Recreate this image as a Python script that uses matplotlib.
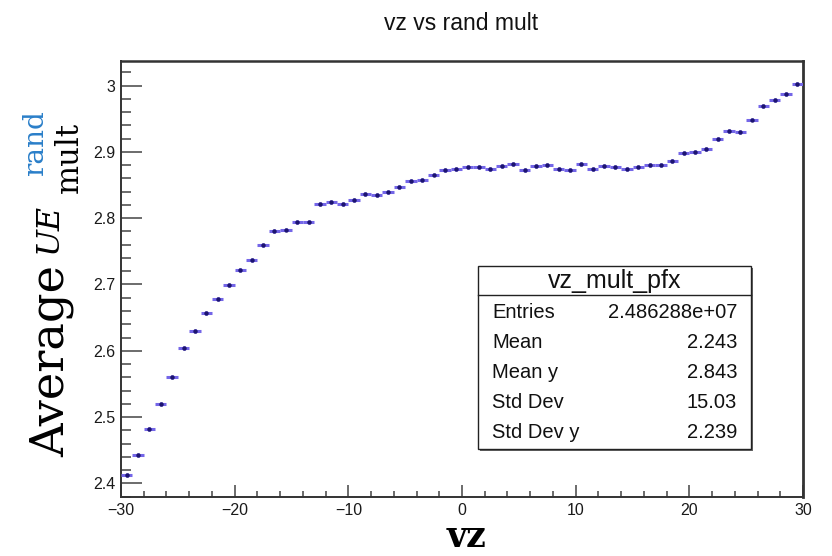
import os
import matplotlib
matplotlib.use("Agg")
import matplotlib.pyplot as plt
import numpy as np
from matplotlib.ticker import MultipleLocator, FixedLocator, FixedFormatter
from matplotlib.transforms import IdentityTransform
from matplotlib.patches import Rectangle
from matplotlib.lines import Line2D
from matplotlib.font_manager import FontProperties

# ---- data ----
bin_edges_lo = -30
bin_width = 1
avg_mult = [2.413, 2.443, 2.482, 2.519, 2.560, 2.604, 2.630, 2.657, 2.678, 2.699,
            2.722, 2.737, 2.760, 2.781, 2.783, 2.795, 2.795,
            2.821, 2.825, 2.821, 2.828, 2.837, 2.835, 2.840, 2.847, 2.856, 2.858,
            2.866, 2.873, 2.875, 2.877, 2.877, 2.875, 2.879, 2.882, 2.873, 2.879,
            2.880, 2.875,
            2.873, 2.882, 2.874, 2.879, 2.877, 2.874, 2.878, 2.881, 2.881, 2.887,
            2.899, 2.900, 2.904, 2.920, 2.932, 2.930, 2.949, 2.970, 2.979, 2.987,
            3.002]
y_err = [0.003] * len(avg_mult)
x_ticks = [-30, -20, -10, 0, 10, 20, 30]
y_ticks = [2.4, 2.5, 2.6, 2.7, 2.8, 2.9, 3.0]
y_tick_labels = ["2.4", "2.5", "2.6", "2.7", "2.8", "2.9", "3"]
stats_title = "vz_mult_pfx"
stats_names = ["Entries", "Mean", "Mean y", "Std Dev", "Std Dev y"]
stats_values = ["2.486288e+07", "2.243", "2.843", "15.03", "2.239"]

W, H = 832, 556
fig = plt.figure(figsize=(W / 100, H / 100), dpi=100)
fig.patch.set_facecolor("white")

L, R, T, B = 121, 803, 61, 497
ax = fig.add_axes([L / W, (H - B) / H, (R - L) / W, (B - T) / H])

xc = np.array([bin_edges_lo + bin_width * (i + 0.5) for i in range(len(avg_mult))])
ax.errorbar(xc, avg_mult, xerr=bin_width / 2, yerr=y_err, fmt="o", ms=2.2,
            color="#1c1470", ecolor="#7466e8", elinewidth=2.2, capsize=0, zorder=3)

ax.set_xlim(-30, 30)
ax.set_ylim(2.3793, 3.0373)
ax.xaxis.set_major_locator(FixedLocator(x_ticks))
ax.xaxis.set_minor_locator(MultipleLocator(2))
ax.yaxis.set_major_locator(FixedLocator(y_ticks))
ax.yaxis.set_major_formatter(FixedFormatter(y_tick_labels))
ax.yaxis.set_minor_locator(MultipleLocator(0.02))

ax.tick_params(axis="x", which="major", direction="in", length=8.6, width=1.1,
               color="#444444", top=False, pad=4, labelsize=11.5)
ax.tick_params(axis="x", which="minor", direction="in", length=4.3, width=1.1,
               color="#444444", top=False)
ax.tick_params(axis="y", which="major", direction="in", length=15, width=1.1,
               color="#444444", right=False, pad=4, labelsize=11.5)
ax.tick_params(axis="y", which="minor", direction="in", length=7.2, width=1.1,
               color="#444444", right=False)
for lab in ax.get_xticklabels() + ax.get_yticklabels():
    lab.set_fontfamily("Liberation Sans")
    lab.set_color("#1a1a1a")
for s in ax.spines.values():
    s.set_color("#333333")
    s.set_linewidth(1.4)
ax.spines["right"].set_linewidth(2.0)
ax.spines["top"].set_linewidth(1.8)

px = IdentityTransform()

ttf_dir = os.path.join(matplotlib.get_data_path(), "fonts", "ttf")
serif = os.path.join(ttf_dir, "DejaVuSerif.ttf")
serif_b = os.path.join(ttf_dir, "DejaVuSerif-Bold.ttf")
serif_i = os.path.join(ttf_dir, "DejaVuSerif-Italic.ttf")

renderer = fig.canvas.get_renderer()


def rot_label(s, fname, baseline_x, y_start, y_end, color="black"):
    """Vertical text (reading upwards) with baseline at x=baseline_x (px from left),
    spanning from y_start to y_end (top-down px)."""
    size = 20.0
    t = fig.text(baseline_x, H - y_start, s, transform=px, rotation=90,
                 rotation_mode="anchor", ha="left", va="baseline",
                 fontproperties=FontProperties(fname=fname, size=size), color=color)
    bb = t.get_window_extent(renderer)
    size *= (y_start - y_end) / bb.height
    t.set_fontproperties(FontProperties(fname=fname, size=size))
    return t


# title
fig.text(461.5, H - 24, "vz vs rand mult", transform=px, ha="center", va="center",
         family="Liberation Sans", fontsize=16.5, color="#111111")

# x label
fig.text(466, H - 547, "vz", transform=px, ha="center", va="baseline",
         fontproperties=FontProperties(fname=serif_b, size=25), color="black")

# y label composed of pieces (rotated)
rot_label("Average", serif, 64, 457, 265)
rot_label("UE", serif_i, 57, 253, 203)
rot_label("mult", serif, 78, 193, 122)
rot_label("rand", serif, 43, 176, 110, color="#2a7fc9")

# stats box
bx0, bx1, by_top, by_bot = 478, 751, 266, 449
fig.patches.append(Rectangle((bx0 + 1.5, H - by_bot - 1.5), bx1 - bx0, by_bot - by_top,
                             transform=px, facecolor="#666666", edgecolor="none", zorder=5))
fig.patches.append(Rectangle((bx0, H - by_bot), bx1 - bx0, by_bot - by_top,
                             transform=px, facecolor="white", edgecolor="#222222",
                             linewidth=1.0, zorder=6))
fig.lines.append(Line2D([bx0, bx1], [H - 295, H - 295], transform=px,
                        color="#222222", linewidth=1.0, zorder=7))
fig.text(615, H - 281, stats_title, transform=px, ha="center", va="center",
         family="Liberation Sans", fontsize=18, color="#111111", zorder=8)
row_y = [312, 342, 372, 403, 432]
for name, val, yy in zip(stats_names, stats_values, row_y):
    fig.text(492, H - yy, name, transform=px, ha="left", va="center",
             family="Liberation Sans", fontsize=14.5, color="#111111", zorder=8)
    fig.text(737, H - yy, val, transform=px, ha="right", va="center",
             family="Liberation Sans", fontsize=14.5, color="#111111", zorder=8)

fig.savefig("out.png", dpi=100)
